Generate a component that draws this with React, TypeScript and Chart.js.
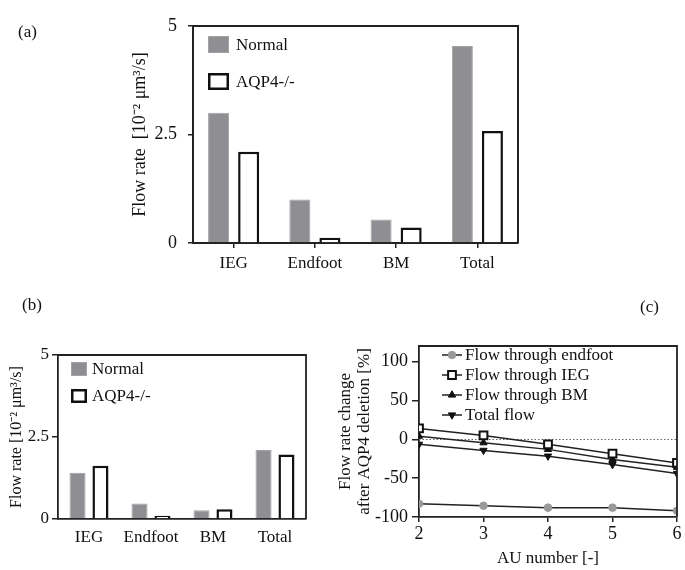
import React, { useEffect, useRef } from "react";
import { Chart, registerables } from "chart.js";

Chart.register(...registerables);

// ---------- data ----------
const barCategories = ["IEG", "Endfoot", "BM", "Total"];
const seriesNames = ["Normal", "AQP4-/-"];
const aNormal = [3.0, 1.0, 0.54, 4.54];
const aAqp4 = [2.1, 0.12, 0.36, 2.58];
const bNormal = [1.41, 0.47, 0.27, 2.1];
const bAqp4 = [1.62, 0.1, 0.3, 1.97];
const barYTicks = [0, 2.5, 5];

const auNumbers = [2, 3, 4, 5, 6];
const lineNames = ["Flow through endfoot", "Flow through IEG", "Flow through BM", "Total flow"];
const endfootChange = [-83, -85.5, -88, -88, -92];
const iegChange = [14, 5, -6.5, -18.5, -30.5];
const bmChange = [4, -4.5, -13, -26, -36];
const totalChange = [-6.5, -14.3, -21.7, -32.6, -44];
const cYTicks = [-100, -50, 0, 50, 100];

const FONT = "'Liberation Serif', 'Times New Roman', serif";
const INK = "#222";
const GRAY = "#8f8f93";
const GRAY_EDGE = "#a3a3a3";
const DOT_GRAY = "#9a9a9a";

// ---------- plugins ----------
function framePlugin(lw: number) {
  return {
    id: "frame",
    afterDatasetsDraw(chart: any) {
      const { ctx, chartArea: a } = chart;
      ctx.save();
      ctx.strokeStyle = INK;
      ctx.lineWidth = lw;
      ctx.beginPath();
      ctx.moveTo(a.left, a.top);
      ctx.lineTo(a.right, a.top);
      ctx.lineTo(a.right, a.bottom);
      ctx.stroke();
      ctx.restore();
    },
  };
}

function barLegendPlugin(o: { dx: number; dy: number; gap: number; w: number; h: number; tg: number; size: number }) {
  return {
    id: "barLegend",
    afterDraw(chart: any) {
      const { ctx, chartArea: a } = chart;
      ctx.save();
      chart.data.datasets.forEach((ds: any, i: number) => {
        const x = a.left + o.dx;
        const y = a.top + o.dy + i * o.gap;
        const lw = ds.borderWidth;
        ctx.fillStyle = ds.backgroundColor;
        ctx.fillRect(x, y, o.w, o.h);
        ctx.strokeStyle = ds.borderColor;
        ctx.lineWidth = lw;
        ctx.strokeRect(x + lw / 2, y + lw / 2, o.w - lw, o.h - lw);
        ctx.fillStyle = "#111";
        ctx.font = `${o.size}px ${FONT}`;
        ctx.textBaseline = "middle";
        ctx.textAlign = "left";
        ctx.fillText(ds.label, x + o.w + o.tg, y + o.h / 2 + 1);
      });
      ctx.restore();
    },
  };
}

function drawMarker(ctx: any, ds: any, x: number, y: number) {
  const r = ds.pointRadius;
  ctx.save();
  ctx.fillStyle = ds.pointBackgroundColor;
  ctx.strokeStyle = ds.pointBorderColor;
  ctx.lineWidth = ds.pointBorderWidth;
  ctx.beginPath();
  if (ds.pointStyle === "circle") {
    ctx.arc(x, y, r, 0, Math.PI * 2);
  } else if (ds.pointStyle === "rect") {
    const s = Math.SQRT1_2 * r;
    ctx.rect(x - s, y - s, 2 * s, 2 * s);
  } else {
    const rot = ((ds.pointRotation || 0) * Math.PI) / 180;
    for (let k = 0; k < 3; k++) {
      const ang = rot + (k * 2 * Math.PI) / 3;
      const px = x + Math.sin(ang) * r;
      const py = y - Math.cos(ang) * r;
      if (k === 0) ctx.moveTo(px, py);
      else ctx.lineTo(px, py);
    }
    ctx.closePath();
  }
  ctx.fill();
  ctx.stroke();
  ctx.restore();
}

function lineLegendPlugin(o: { x0: number; x1: number; tx: number; dy: number; gap: number; size: number }) {
  return {
    id: "lineLegend",
    afterDraw(chart: any) {
      const { ctx, chartArea: a } = chart;
      ctx.save();
      chart.data.datasets.forEach((ds: any, i: number) => {
        const y = a.top + o.dy + i * o.gap;
        ctx.strokeStyle = ds.borderColor;
        ctx.lineWidth = ds.borderWidth;
        ctx.beginPath();
        ctx.moveTo(a.left + o.x0, y);
        ctx.lineTo(a.left + o.x1, y);
        ctx.stroke();
        drawMarker(ctx, ds, a.left + (o.x0 + o.x1) / 2, y);
        ctx.fillStyle = "#111";
        ctx.font = `${o.size}px ${FONT}`;
        ctx.textBaseline = "middle";
        ctx.textAlign = "left";
        ctx.fillText(ds.label, a.left + o.tx, y + 1);
      });
      ctx.restore();
    },
  };
}

const zeroLinePlugin = {
  id: "zeroLine",
  beforeDatasetsDraw(chart: any) {
    const { ctx, chartArea: a, scales } = chart;
    const y = Math.round(scales.y.getPixelForValue(0)) + 0.5;
    ctx.save();
    ctx.strokeStyle = "#666";
    ctx.lineWidth = 1;
    ctx.setLineDash([1.5, 2]);
    ctx.beginPath();
    ctx.moveTo(a.left, y);
    ctx.lineTo(a.right, y);
    ctx.stroke();
    ctx.restore();
  },
};

// ---------- configs ----------
type BarOpts = {
  normal: number[];
  aqp4: number[];
  padding: { left: number; right: number; top: number; bottom: number };
  yWidth: number;
  xHeight: number;
  title: string;
  titleSize: number;
  tickSize: number;
  xTickSize: number;
  yTickLen: number;
  yPad: number;
  xTickLen: number;
  xPad: number;
  lw: number;
  legend: { dx: number; dy: number; gap: number; w: number; h: number; tg: number; size: number };
};

function makeBarConfig(o: BarOpts): any {
  return {
    type: "bar",
    data: {
      labels: barCategories,
      datasets: [
        {
          label: seriesNames[0],
          data: o.normal,
          backgroundColor: GRAY,
          borderColor: GRAY_EDGE,
          borderWidth: 1,
          categoryPercentage: 0.74,
          barPercentage: 0.7,
        },
        {
          label: seriesNames[1],
          data: o.aqp4,
          backgroundColor: "#ffffff",
          borderColor: "#111",
          borderWidth: 2.5,
          categoryPercentage: 0.74,
          barPercentage: 0.7,
        },
      ],
    },
    options: {
      responsive: false,
      animation: false,
      devicePixelRatio: 1,
      layout: { padding: o.padding },
      plugins: { legend: { display: false }, tooltip: { enabled: false }, title: { display: false } },
      scales: {
        x: {
          afterFit: (s: any) => {
            s.height = o.xHeight;
          },
          grid: {
            offset: false,
            drawOnChartArea: false,
            drawTicks: o.xTickLen > 0,
            tickLength: o.xTickLen,
            color: INK,
            lineWidth: 1.5,
          },
          border: { display: true, color: INK, width: o.lw },
          ticks: { color: "#111", font: { family: FONT, size: o.xTickSize }, padding: o.xPad, maxRotation: 0 },
        },
        y: {
          min: 0,
          max: 5,
          afterFit: (s: any) => {
            s.width = o.yWidth;
          },
          afterBuildTicks: (s: any) => {
            s.ticks = barYTicks.map((v) => ({ value: v }));
          },
          grid: { drawOnChartArea: false, drawTicks: true, tickLength: o.yTickLen, color: INK, lineWidth: 1.5 },
          border: { display: true, color: INK, width: o.lw },
          ticks: { color: "#111", font: { family: FONT, size: o.tickSize }, padding: o.yPad },
          title: {
            display: true,
            text: o.title,
            color: "#111",
            font: { family: FONT, size: o.titleSize },
            padding: { top: 4, bottom: 4 },
          },
        },
      },
    },
    plugins: [framePlugin(o.lw), barLegendPlugin(o.legend)],
  };
}

function makeLineConfig(): any {
  const pts = (arr: number[]) => auNumbers.map((x, i) => ({ x, y: arr[i] }));
  const base = { borderColor: INK, borderWidth: 1.5, fill: false, tension: 0 };
  return {
    type: "line",
    data: {
      datasets: [
        {
          ...base,
          label: lineNames[0],
          data: pts(endfootChange),
          pointStyle: "circle",
          pointRadius: 3.8,
          pointBackgroundColor: DOT_GRAY,
          pointBorderColor: DOT_GRAY,
          pointBorderWidth: 1,
        },
        {
          ...base,
          label: lineNames[1],
          data: pts(iegChange),
          pointStyle: "rect",
          pointRadius: 5.5,
          pointBackgroundColor: "#ffffff",
          pointBorderColor: "#111",
          pointBorderWidth: 2,
        },
        {
          ...base,
          label: lineNames[2],
          data: pts(bmChange),
          pointStyle: "triangle",
          pointRadius: 4.2,
          pointBackgroundColor: "#111",
          pointBorderColor: "#111",
          pointBorderWidth: 1,
        },
        {
          ...base,
          label: lineNames[3],
          data: pts(totalChange),
          pointStyle: "triangle",
          pointRotation: 180,
          pointRadius: 4.2,
          pointBackgroundColor: "#111",
          pointBorderColor: "#111",
          pointBorderWidth: 1,
        },
      ],
    },
    options: {
      responsive: false,
      animation: false,
      devicePixelRatio: 1,
      layout: { padding: { left: 6, right: 8, top: 56, bottom: 0 } },
      plugins: { legend: { display: false }, tooltip: { enabled: false }, title: { display: false } },
      scales: {
        x: {
          type: "linear",
          min: 2,
          max: 6,
          afterFit: (s: any) => {
            s.height = 53;
          },
          afterBuildTicks: (s: any) => {
            s.ticks = auNumbers.map((v) => ({ value: v }));
          },
          grid: { drawOnChartArea: false, drawTicks: true, tickLength: 5, color: INK, lineWidth: 1.5 },
          border: { display: true, color: INK, width: 1.8 },
          ticks: { color: "#111", font: { family: FONT, size: 18 }, padding: 1 },
          title: {
            display: true,
            text: "AU number [-]",
            color: "#111",
            font: { family: FONT, size: 17 },
            padding: { top: 0, bottom: 1 },
          },
        },
        y: {
          min: -100,
          max: 120,
          afterFit: (s: any) => {
            s.width = 83;
          },
          afterBuildTicks: (s: any) => {
            s.ticks = cYTicks.map((v) => ({ value: v }));
          },
          grid: { drawOnChartArea: false, drawTicks: true, tickLength: 7, color: INK, lineWidth: 1.5 },
          border: { display: true, color: INK, width: 1.8 },
          ticks: { color: "#111", font: { family: FONT, size: 18 }, padding: 4 },
          title: {
            display: true,
            text: ["Flow rate change", "after AQP4 deletion [%]"],
            color: "#111",
            font: { family: FONT, size: 17, lineHeight: 1.12 },
            padding: { top: 0, bottom: 0 },
          },
        },
      },
    },
    plugins: [zeroLinePlugin, framePlugin(1.8), lineLegendPlugin({ x0: 23, x1: 43, tx: 46, dy: 9, gap: 20, size: 17 })],
  };
}

// ---------- components ----------
function ChartCanvas(props: { left: number; top: number; width: number; height: number; make: () => any }) {
  const ref = useRef<HTMLCanvasElement | null>(null);
  useEffect(() => {
    if (!ref.current) return;
    const chart = new Chart(ref.current, props.make());
    return () => chart.destroy();
  }, []);
  return (
    <canvas
      ref={ref}
      width={props.width}
      height={props.height}
      style={{ position: "absolute", left: props.left, top: props.top, width: props.width, height: props.height }}
    />
  );
}

const labelStyle = (left: number, top: number): React.CSSProperties => ({
  position: "absolute",
  left,
  top,
  fontFamily: FONT,
  fontSize: 17,
  lineHeight: "20px",
  color: "#111",
});

export default function App() {
  return (
    <div
      style={{
        position: "absolute",
        left: 0,
        top: 0,
        width: 685,
        height: 570,
        background: "#ffffff",
        overflow: "hidden",
      }}
    >
      <ChartCanvas
        left={0}
        top={0}
        width={685}
        height={290}
        make={() =>
          makeBarConfig({
            normal: aNormal,
            aqp4: aAqp4,
            padding: { left: 125, right: 167, top: 26, bottom: 0 },
            yWidth: 68,
            xHeight: 47,
            title: "Flow rate  [10⁻² μm³/s]",
            titleSize: 18,
            tickSize: 18,
            xTickSize: 17,
            yTickLen: 5,
            yPad: 11,
            xTickLen: 5,
            xPad: 5,
            lw: 2,
            legend: { dx: 15, dy: 10, gap: 37, w: 21, h: 17, tg: 7, size: 17 },
          })
        }
      />
      <ChartCanvas
        left={0}
        top={290}
        width={330}
        height={280}
        make={() =>
          makeBarConfig({
            normal: bNormal,
            aqp4: bAqp4,
            padding: { left: 3, right: 24, top: 65, bottom: 0 },
            yWidth: 55,
            xHeight: 51,
            title: "Flow rate [10⁻² μm³/s]",
            titleSize: 16,
            tickSize: 17,
            xTickSize: 17,
            yTickLen: 6,
            yPad: 3,
            xTickLen: 0,
            xPad: 8,
            lw: 1.8,
            legend: { dx: 13, dy: 7, gap: 27, w: 16, h: 14, tg: 5, size: 17 },
          })
        }
      />
      <ChartCanvas left={330} top={290} width={355} height={280} make={makeLineConfig} />
      <div style={labelStyle(18, 22)}>(a)</div>
      <div style={labelStyle(22, 295)}>(b)</div>
      <div style={labelStyle(640, 297)}>(c)</div>
    </div>
  );
}
